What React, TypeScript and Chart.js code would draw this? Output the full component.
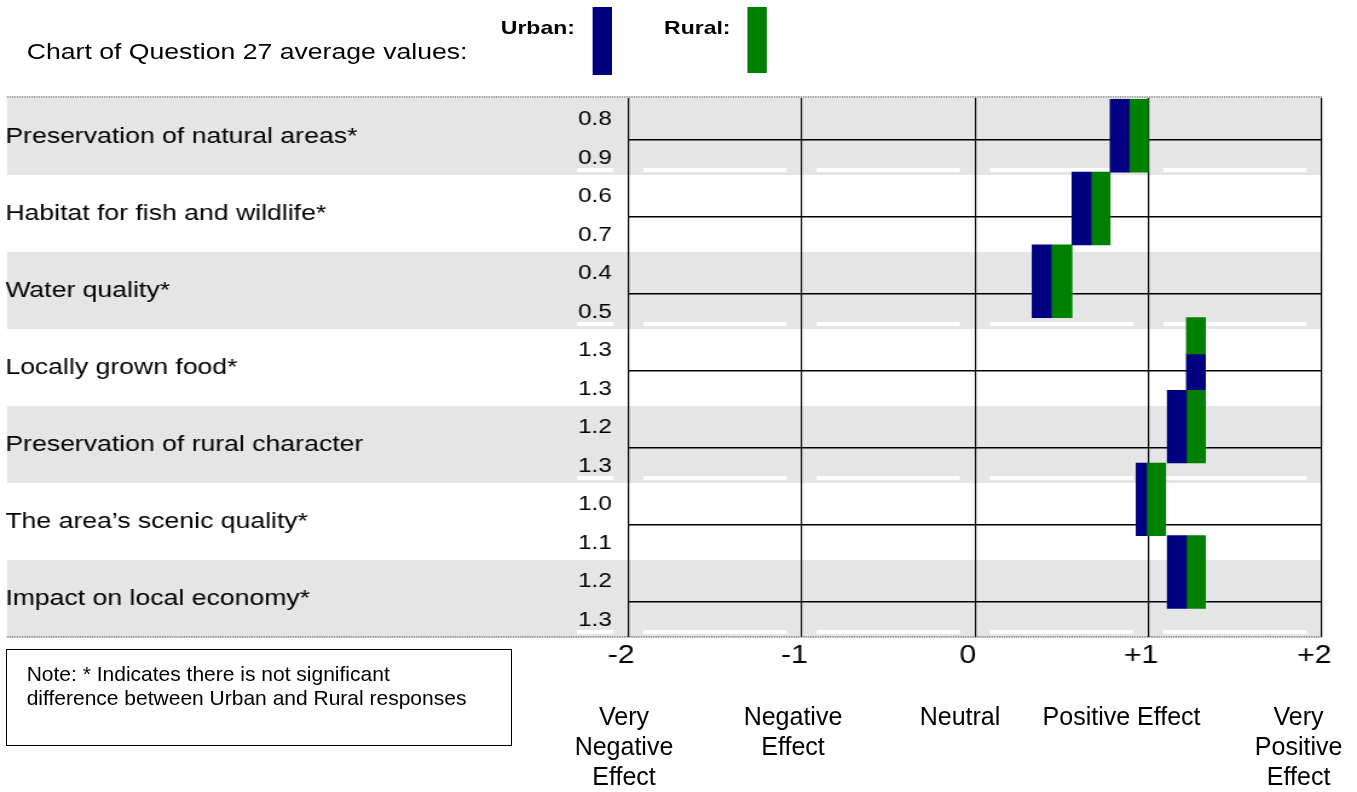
import React, { useEffect, useRef } from "react";
import { Chart, registerables } from "chart.js";

Chart.register(...registerables);

// ---------------- data ----------------
const categories = [
  "Preservation of natural areas*",
  "Habitat for fish and wildlife*",
  "Water quality*",
  "Locally grown food*",
  "Preservation of rural character",
  "The area’s scenic quality*",
  "Impact on local economy*",
];
const urbanAverages = [0.8, 0.6, 0.4, 1.3, 1.2, 1.0, 1.2];
const ruralAverages = [0.9, 0.7, 0.5, 1.3, 1.3, 1.1, 1.3];
const urbanBarFrom = [0.78, 0.56, 0.33, 1.22, 1.11, 0.93, 1.11];
const urbanBarTo = [0.89, 0.67, 0.44, 1.33, 1.22, 0.99, 1.22];
const ruralBarFrom = [0.89, 0.67, 0.44, 1.22, 1.22, 0.99, 1.22];
const ruralBarTo = [1.0, 0.78, 0.56, 1.33, 1.33, 1.1, 1.33];
const xTickValues = [-2, -1, 0, 1, 2];
const xTickLabels = ["-2", "-1", "0", "+1", "+2"];
const effectLabels = [
  ["Very", "Negative", "Effect"],
  ["Negative", "Effect"],
  ["Neutral"],
  ["Positive Effect"],
  ["Very", "Positive", "Effect"],
];
const seriesNames = ["Urban:", "Rural:"];
const titleText = "Chart of Question 27 average values:";
const noteLines = [
  "Note: * Indicates there is not significant",
  "difference between Urban and Rural responses",
];

// ---------------- style / layout ----------------
const FONT = "'Liberation Sans', Arial, Helvetica, sans-serif";
const URBAN_COLOR = "#000080";
const RURAL_COLOR = "#008000";
const BAND_COLOR = "#e5e5e5";
const PAGE_W = 1357;
const PAGE_H = 792;
const DESIGN_W = 1122;
const SX = PAGE_W / DESIGN_W;
const PLOT_LEFT = 519.5;
const PLOT_RIGHT = 1092.7;
const PAD_LEFT = 4.4;
const BAND_LEFT = 5.8;
const VAL_AXIS_W = 60;
const FULL_BAR = 72.7;
const HALF_BAR = FULL_BAR / 2;
const GAP = 12.4;
const EFFECT_X = [624, 793, 960, 1121.6, 1298.6];

const valueLabels = categories.flatMap((_, i) => [
  urbanAverages[i].toFixed(1),
  ruralAverages[i].toFixed(1),
]);

const rows = categories.map((_, i) => i);
const shared = (i: number) =>
  urbanBarFrom[i] === ruralBarFrom[i] && urbanBarTo[i] === ruralBarTo[i];

const datasets: any[] = [
  {
    label: "Urban",
    data: rows.filter((i) => !shared(i)).map((i) => ({ x: [urbanBarFrom[i], urbanBarTo[i]], y: i })),
    backgroundColor: URBAN_COLOR,
    barThickness: FULL_BAR,
  },
  {
    label: "Rural",
    data: rows.filter((i) => !shared(i)).map((i) => ({ x: [ruralBarFrom[i], ruralBarTo[i]], y: i })),
    backgroundColor: RURAL_COLOR,
    barThickness: FULL_BAR,
  },
  {
    label: "Rural (equal)",
    data: rows.filter(shared).map((i) => ({ x: [ruralBarFrom[i], ruralBarTo[i]], y: i - 0.25 })),
    backgroundColor: RURAL_COLOR,
    barThickness: HALF_BAR,
  },
  {
    label: "Urban (equal)",
    data: rows.filter(shared).map((i) => ({ x: [urbanBarFrom[i], urbanBarTo[i]], y: i + 0.25 })),
    backgroundColor: URBAN_COLOR,
    barThickness: HALF_BAR,
  },
].map((d) => ({ ...d, yAxisID: "yBar", xAxisID: "x", grouped: false, borderWidth: 0 }));

const decorPlugin = {
  id: "rowDecor",
  beforeDraw(chart: any) {
    const { ctx, chartArea } = chart;
    const yCat = chart.scales.yCat;
    const x = chart.scales.x;
    const step = yCat.getPixelForValue(1) - yCat.getPixelForValue(0);
    ctx.save();
    categories.forEach((_, i) => {
      if (i % 2 !== 0) return;
      const top = yCat.getPixelForValue(i) - step / 2;
      ctx.fillStyle = BAND_COLOR;
      ctx.fillRect(BAND_LEFT, top, chartArea.right - BAND_LEFT, step);
      ctx.fillStyle = "#ffffff";
      const dy = Math.round(top + step - 7.5);
      const x0 = x.getPixelForValue(xTickValues[0]);
      ctx.fillRect(x0 - 42.4, dy, 42.4 - GAP, 4);
      for (let k = 0; k < xTickValues.length - 1; k++) {
        const a = x.getPixelForValue(xTickValues[k]) + GAP;
        const b = x.getPixelForValue(xTickValues[k + 1]) - GAP;
        ctx.fillRect(a, dy, b - a, 4);
      }
    });
    ctx.restore();
  },
  beforeDatasetsDraw(chart: any) {
    const { ctx, chartArea } = chart;
    const yCat = chart.scales.yCat;
    ctx.save();
    ctx.strokeStyle = "#000";
    ctx.lineWidth = 1.5;
    categories.forEach((_, i) => {
      const y = yCat.getPixelForValue(i) + 3.2;
      ctx.beginPath();
      ctx.moveTo(chartArea.left, y);
      ctx.lineTo(chartArea.right, y);
      ctx.stroke();
    });
    ctx.strokeStyle = "#444";
    ctx.lineWidth = 1.3;
    ctx.setLineDash([1, 1]);
    [chartArea.top - 1, chartArea.bottom].forEach((y: number) => {
      ctx.beginPath();
      ctx.moveTo(BAND_LEFT, y);
      ctx.lineTo(chartArea.right, y);
      ctx.stroke();
    });
    ctx.restore();
  },
};

function buildConfig(): any {
  return {
    type: "bar",
    data: { datasets },
    options: {
      indexAxis: "y",
      animation: false,
      responsive: false,
      events: [],
      layout: { padding: { left: PAD_LEFT, right: DESIGN_W - PLOT_RIGHT, top: 98, bottom: 0 } },
      plugins: { legend: { display: false }, tooltip: { enabled: false }, title: { display: false } },
      scales: {
        x: {
          type: "linear",
          position: "bottom",
          min: xTickValues[0],
          max: xTickValues[xTickValues.length - 1],
          afterBuildTicks: (s: any) => {
            s.ticks = xTickValues.map((v) => ({ value: v }));
          },
          afterFit: (s: any) => {
            s.height = 155;
          },
          grid: { color: "#000", lineWidth: 1.2, drawTicks: false },
          border: { display: false },
          ticks: {
            font: { family: FONT, size: 25 },
            color: "#000",
            padding: 4,
            labelOffset: -6,
            maxRotation: 0,
            callback: (v: any) => xTickLabels[xTickValues.indexOf(Number(v))],
          },
        },
        yBar: {
          type: "linear",
          display: false,
          reverse: true,
          offset: false,
          bounds: "data",
          grace: 0,
          beginAtZero: false,
          min: -0.52,
          max: 6.894,
          grid: { offset: false },
        },
        yVal: {
          type: "category",
          position: "left",
          labels: valueLabels,
          offset: true,
          weight: 1,
          grid: { display: false, drawTicks: false },
          border: { display: false },
          afterFit: (s: any) => {
            s.width = VAL_AXIS_W;
          },
          ticks: {
            font: { family: FONT, size: 20 },
            color: "#000",
            padding: 13.7,
            labelOffset: 2.5,
            autoSkip: false,
          },
        },
        yCat: {
          type: "category",
          position: "left",
          labels: categories,
          offset: true,
          weight: 2,
          grid: { display: false, drawTicks: false },
          border: { display: false },
          afterFit: (s: any) => {
            s.width = PLOT_LEFT - PAD_LEFT - VAL_AXIS_W;
          },
          ticks: {
            font: { family: FONT, size: 22 },
            color: "#000",
            crossAlign: "far",
            labelOffset: 0,
            padding: 0,
            autoSkip: false,
          },
        },
      },
    },
    plugins: [decorPlugin],
  };
}

export default function App() {
  const canvasRef = useRef<HTMLCanvasElement>(null);
  useEffect(() => {
    const chart = new Chart(canvasRef.current as HTMLCanvasElement, buildConfig());
    return () => chart.destroy();
  }, []);

  const swatch = (left: number, h: number, color: string) => (
    <div style={{ position: "absolute", left, top: 7.3, width: 16, height: h, background: color }} />
  );

  return (
    <div
      style={{
        position: "fixed",
        left: 0,
        top: 0,
        width: PAGE_W,
        height: PAGE_H,
        background: "#fff",
        overflow: "hidden",
        fontFamily: FONT,
        color: "#000",
      }}
    >
      <div
        style={{
          position: "absolute",
          left: 0,
          top: 0,
          width: DESIGN_W,
          height: PAGE_H,
          transform: `scaleX(${SX})`,
          transformOrigin: "0 0",
        }}
      >
        <canvas
          ref={canvasRef}
          width={DESIGN_W}
          height={PAGE_H}
          style={{ display: "block", width: DESIGN_W, height: PAGE_H }}
        />
        <div style={{ position: "absolute", left: 22.1, top: 41, fontSize: 22, lineHeight: "22px", whiteSpace: "nowrap" }}>
          {titleText}
        </div>
        <div style={{ position: "absolute", left: 414.1, top: 18.2, fontSize: 19, fontWeight: "bold", lineHeight: "19px", whiteSpace: "nowrap" }}>
          {seriesNames[0]}
        </div>
        {swatch(490.2, 67.4, URBAN_COLOR)}
        <div style={{ position: "absolute", left: 549.1, top: 18.2, fontSize: 19, fontWeight: "bold", lineHeight: "19px", whiteSpace: "nowrap" }}>
          {seriesNames[1]}
        </div>
        {swatch(618, 65.4, RURAL_COLOR)}
      </div>

      <div
        style={{
          position: "absolute",
          left: 6,
          top: 649,
          width: 506,
          height: 97,
          boxSizing: "border-box",
          border: "1px solid #000",
        }}
      />
      <div style={{ position: "absolute", left: 26.7, top: 661.5, fontSize: 21, lineHeight: "24px", whiteSpace: "nowrap" }}>
        {noteLines.map((l, i) => (
          <div key={i}>{l}</div>
        ))}
      </div>

      {effectLabels.map((lines, i) => (
        <div
          key={i}
          style={{
            position: "absolute",
            left: EFFECT_X[i] - 100,
            top: 700.8,
            width: 200,
            textAlign: "center",
            fontSize: 25,
            lineHeight: "30px",
            whiteSpace: "nowrap",
          }}
        >
          {lines.map((l, j) => (
            <div key={j}>{l}</div>
          ))}
        </div>
      ))}
    </div>
  );
}
